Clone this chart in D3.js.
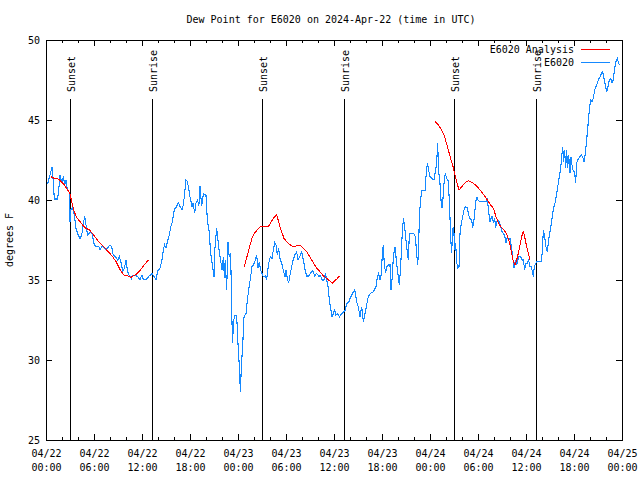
<!DOCTYPE html>
<html>
<head>
<meta charset="utf-8">
<script src="https://cdn.jsdelivr.net/npm/d3@7"></script>
<style>
  html, body { margin: 0; padding: 0; background: #fff; }
  svg { display: block; }
  text { font-family: "DejaVu Sans Mono", "Liberation Mono", monospace; font-size: 10px; fill: #000; }
</style>
</head>
<body>
<svg id="chart" width="640" height="480"></svg>
<script>
// ---- Data (hours since 2024-04-22 00:00 UTC) ----
const titleText = "Dew Point for E6020 on 2024-Apr-22 (time in UTC)";
const yLabel = "degrees F";
const seriesNames = ["E6020 Analysis", "E6020"];

const yTicks = [25, 30, 35, 40, 45, 50];
const xTickHours = [0, 6, 12, 18, 24, 30, 36, 42, 48, 54, 60, 66, 72];
const xTickDays = ["04/22","04/22","04/22","04/22","04/23","04/23","04/23","04/23","04/24","04/24","04/24","04/24","04/25"];
const xTickTimes = ["00:00","06:00","12:00","18:00","00:00","06:00","12:00","18:00","00:00","06:00","12:00","18:00","00:00"];

const eventLabels = ["Sunset", "Sunrise", "Sunset", "Sunrise", "Sunset", "Sunrise"];
const eventHours = [3.0, 13.3, 27.05, 37.3, 51.05, 61.2];

const obsHours = [
  0.2,0.5,0.75,0.9,1.04,1.46,1.58,1.75,2.0,2.17,2.33,2.5,2.67,2.9,3.0,3.1,3.33,3.54,3.75,3.96,
  4.25,4.46,4.67,4.83,5.0,5.2,5.5,5.75,6.04,6.25,6.6,6.75,7.0,7.3,7.5,7.7,8.0,8.2,8.4,8.67,
  8.96,9.17,9.4,9.6,9.8,10.0,10.2,10.4,10.67,10.83,11.17,11.46,11.75,12.0,12.17,12.5,12.9,13.25,13.54,13.75,
  14.0,14.25,14.5,14.67,14.83,15.0,15.17,15.4,15.6,15.8,16.04,16.33,16.54,16.75,17.0,17.17,17.33,17.5,17.67,17.83,
  18.0,18.25,18.4,18.58,18.75,18.96,19.1,19.25,19.46,19.67,20.0,20.17,20.4,20.58,20.83,21.0,21.1,21.33,21.5,21.67,
  21.83,22.0,22.17,22.3,22.4,22.58,22.75,22.9,23.08,23.25,23.33,23.42,23.58,23.83,24.0,24.17,24.3,24.42,24.58,24.75,
  25.0,25.17,25.4,25.58,25.75,25.92,26.1,26.33,26.5,26.67,26.83,27.0,27.17,27.4,27.58,27.75,27.92,28.08,28.25,28.42,
  28.58,28.75,28.92,29.08,29.25,29.46,29.67,29.875,30.0,30.17,30.33,30.5,30.7,30.9,31.1,31.33,31.5,31.75,31.96,32.17,
  32.4,32.58,32.83,33.08,33.33,33.58,33.83,34.08,34.33,34.54,34.75,34.92,35.08,35.25,35.42,35.58,35.75,35.92,36.08,36.25,
  36.42,36.67,36.92,37.17,37.42,37.58,37.83,38.0,38.33,38.6,38.83,39.04,39.25,39.46,39.67,39.875,40.08,40.29,40.58,40.92,
  41.25,41.42,41.58,41.75,41.92,42.04,42.17,42.3,42.46,42.625,42.79,43.0,43.125,43.29,43.42,43.625,43.83,44.04,44.17,44.33,
  44.5,44.67,44.83,45.0,45.17,45.29,45.42,45.7,46.0,46.17,46.33,46.46,46.58,46.67,46.83,47.0,47.375,47.5,47.67,47.83,
  48.0,48.25,48.5,48.67,48.83,48.96,49.08,49.25,49.375,49.5,49.625,49.75,49.92,50.08,50.25,50.42,50.58,50.71,50.83,50.96,
  51.08,51.21,51.33,51.46,51.625,51.75,51.92,52.08,52.25,52.42,52.67,52.83,53.0,53.21,53.33,53.5,53.625,53.75,53.875,54.0,
  54.17,54.46,54.75,55.0,55.17,55.33,55.5,55.625,55.75,55.92,56.08,56.21,56.33,56.42,56.67,56.83,57.0,57.17,57.33,57.5,
  57.67,57.83,58.0,58.17,58.33,58.5,58.67,58.83,59.08,59.33,59.5,59.67,59.83,60.0,60.17,60.33,60.5,60.67,60.79,60.92,
  61.04,61.17,61.33,61.75,61.92,62.04,62.17,62.33,62.5,62.67,62.83,63.0,63.17,63.33,63.5,63.67,63.83,64.0,64.17,64.33,
  64.5,64.58,64.71,64.83,64.96,65.08,65.21,65.33,65.5,65.625,65.75,65.92,66.08,66.21,66.33,66.5,66.67,66.92,67.08,67.25,
  67.42,67.58,67.75,67.92,68.08,68.25,68.42,68.58,68.75,68.92,69.08,69.25,69.42,69.58,69.75,69.92,70.08,70.25,70.42,70.58,
  70.75,70.92,71.08,71.25,71.42,71.58,71.75
];
const obsValues = [
  41.0,41.56,42.04,41.25,40.06,40.06,40.6,41.56,41.04,41.5,40.94,41.25,40.6,40.5,38.65,39.4,39.5,39.06,38.23,37.9,
  37.6,37.8,38.5,39.0,38.44,37.8,38.0,37.9,37.19,37.1,37.1,36.9,37.1,37.0,36.9,37.0,37.2,37.1,36.56,36.46,
  36.25,36.46,36.04,35.52,35.73,36.25,35.52,35.3,35.1,35.3,35.3,35.2,35.04,35.3,35.04,35.04,35.25,35.4,35.2,35.04,
  35.6,35.73,36.25,36.9,37.19,37.0,37.4,37.8,38.33,38.65,39.4,39.6,39.83,39.6,39.4,39.7,40.4,41.25,41.15,40.73,
  40.2,39.6,39.8,39.17,39.8,40.0,39.6,40.9,39.6,40.4,40.3,38.75,38.02,36.67,35.83,35.2,36.9,38.23,37.5,36.67,
  36.25,35.6,36.46,35.1,36.25,34.38,37.4,36.46,36.67,32.3,31.04,32.3,32.8,32.8,31.04,29.6,28.0,29.6,30.83,32.7,
  32.9,33.75,34.6,35.2,35.83,35.94,36.15,36.56,35.73,36.15,35.6,35.42,35.2,35.25,35.0,35.73,36.25,36.46,36.35,36.88,
  37.33,37.19,36.56,36.98,36.35,36.04,35.6,35.2,35.6,35.1,34.8,35.3,35.83,36.25,36.56,36.77,36.25,36.5,36.77,36.25,
  35.6,35.25,35.25,35.42,35.6,35.25,35.42,35.25,35.25,35.0,35.0,35.42,35.0,34.6,33.75,33.23,32.7,32.9,33.13,32.8,
  32.9,32.7,32.88,33.0,33.13,33.54,33.6,33.85,34.17,34.38,33.65,33.33,32.7,33.33,32.4,32.9,33.44,33.96,34.17,34.27,
  34.58,35.2,35.4,35.0,35.4,36.67,37.19,35.83,35.52,35.83,35.94,35.94,34.38,35.2,36.46,37.08,36.04,35.2,34.69,35.83,
  37.6,38.85,38.33,37.5,36.67,36.25,37.88,37.9,37.88,37.7,36.67,35.94,37.08,38.96,40.1,40.58,40.58,41.46,42.29,41.88,
  41.46,41.35,41.25,41.77,42.29,43.54,41.77,41.04,40.0,39.48,40.1,41.04,41.67,41.35,41.25,40.0,37.7,36.67,38.13,38.33,
  36.88,37.3,36.15,35.73,35.83,37.9,38.54,38.96,39.38,39.58,39.54,39.06,38.85,38.75,38.23,38.75,39.38,40.0,40.2,40.0,
  39.9,39.9,39.9,39.9,40.1,39.27,38.65,38.85,38.96,38.65,38.85,38.23,38.65,38.75,38.65,38.33,38.02,37.9,37.8,37.3,
  37.7,37.5,37.6,37.08,36.46,35.73,36.25,35.94,36.46,36.46,36.25,36.25,35.63,36.04,36.04,36.25,35.83,35.83,35.52,35.2,
  35.83,36.0,36.15,36.15,36.15,36.77,38.13,37.7,37.08,36.77,37.5,38.02,38.54,39.17,39.58,39.9,40.4,40.94,41.46,41.98,
  42.9,43.33,42.4,43.13,41.98,43.13,41.98,42.8,41.67,42.7,42.19,41.77,41.77,41.04,42.29,42.54,42.67,42.8,42.7,42.4,
  42.9,43.75,44.69,45.63,46.25,46.15,46.35,46.88,47.08,47.3,47.54,47.7,47.9,48.02,47.6,47.19,46.77,47.08,47.5,47.6,
  47.3,47.54,48.23,48.65,48.85,48.54,48.44
];

// Analysis (NaN marks gaps between runs)
const anaHours = [
  0.6,1.04,1.58,1.875,2.3,2.7,3.0,3.25,3.54,3.83,4.17,4.58,5.0,5.42,5.83,6.17,6.58,7.08,7.5,7.92,
  8.33,8.75,9.17,9.5,9.8,10.2,10.625,10.9,11.33,11.75,12.17,12.5,12.8,
  NaN,
  24.79,25.0,25.3,25.5,25.75,26.04,26.42,26.75,27.25,27.79,28.33,28.83,29.25,29.75,30.29,30.83,31.33,31.75,32.17,32.58,
  33.0,33.42,33.83,34.25,34.67,35.08,35.42,35.79,36.125,36.42,36.67,
  NaN,
  48.67,49.04,49.46,49.75,50.0,50.29,50.58,50.83,51.08,51.33,51.625,51.96,52.375,52.79,53.33,53.83,54.25,54.75,55.17,55.58,
  55.92,56.25,56.54,56.83,57.17,57.5,57.79,58.0,58.21,58.42,58.625,58.83,59.04,59.25,59.46,59.67,59.875,60.08,60.29,60.5
];
const anaValues = [
  41.46,41.35,41.3,41.15,40.94,40.63,40.4,39.8,39.27,38.9,38.7,38.44,38.23,38.13,37.9,37.67,37.4,37.13,36.92,36.7,
  36.46,36.15,35.73,35.46,35.3,35.25,35.17,35.25,35.38,35.58,35.88,36.08,36.25,
  NaN,
  35.79,36.25,36.77,37.19,37.6,37.92,38.13,38.33,38.33,38.33,38.79,39.1,38.33,37.6,37.29,37.08,37.13,37.19,36.98,36.77,
  36.42,36.08,35.73,35.52,35.25,35.1,34.96,34.79,34.96,35.1,35.25,
  NaN,
  44.9,44.69,44.38,44.06,43.65,43.13,42.6,42.19,41.67,41.15,40.63,40.83,41.08,41.2,41.08,40.88,40.63,40.3,40.0,39.69,
  39.48,38.96,38.6,38.33,38.17,37.96,37.6,37.19,36.67,36.15,35.94,36.25,36.67,37.19,37.71,38.08,37.6,37.08,36.67,36.25
];

// ---- Drawing ----
const svg = d3.select("#chart");
const L = 46, R = 622, T = 40, B = 440;
const t0 = Date.UTC(2024, 3, 22, 0, 0);
const toDate = h => new Date(t0 + h * 3600e3);

const x = d3.scaleUtc().domain([toDate(0), toDate(72)]).range([L, R]);
const y = d3.scaleLinear().domain([25, 50]).range([B, T]);

svg.append("rect").attr("width", 640).attr("height", 480).attr("fill", "#fff");

// Title
svg.append("text").attr("x", 331).attr("y", 20).attr("text-anchor", "middle")
  .attr("dominant-baseline", "middle").text(titleText);

// y label
svg.append("text").attr("transform", "translate(10,240) rotate(-90)")
  .attr("text-anchor", "middle").attr("dominant-baseline", "middle").text(yLabel);

const minorHours = d3.range(0, 73, 2).filter(h => h % 6 !== 0);

// bottom axis (major)
const gx = svg.append("g").attr("transform", `translate(0,${B})`)
  .call(d3.axisBottom(x).tickValues(xTickHours.map(toDate)).tickSize(-6).tickPadding(8).tickFormat(""));
gx.selectAll(".tick").each(function(d, i) {
  const t = d3.select(this).append("text").attr("fill", "#000").attr("text-anchor", "middle");
  t.append("tspan").attr("x", 0).attr("y", 17).text(xTickDays[i]);
  t.append("tspan").attr("x", 0).attr("y", 31).text(xTickTimes[i]);
});
// bottom minor
svg.append("g").attr("transform", `translate(0,${B})`)
  .call(d3.axisBottom(x).tickValues(minorHours.map(toDate)).tickSize(-3).tickFormat(""))
  .select(".domain").remove();
// top axis
svg.append("g").attr("transform", `translate(0,${T})`)
  .call(d3.axisTop(x).tickValues(xTickHours.map(toDate)).tickSize(-6).tickFormat(""));
svg.append("g").attr("transform", `translate(0,${T})`)
  .call(d3.axisTop(x).tickValues(minorHours.map(toDate)).tickSize(-3).tickFormat(""))
  .select(".domain").remove();
// left axis
const gy = svg.append("g").attr("transform", `translate(${L},0)`)
  .call(d3.axisLeft(y).tickValues(yTicks).tickSize(-6).tickPadding(6).tickFormat(d3.format("d")));
gy.selectAll("text").attr("x", -6);
// right axis
svg.append("g").attr("transform", `translate(${R},0)`)
  .call(d3.axisRight(y).tickValues(yTicks).tickSize(-6).tickFormat(""));

svg.selectAll(".domain").attr("stroke", "#000").attr("stroke-width", 1).attr("shape-rendering", "crispEdges");
svg.selectAll(".tick line").attr("stroke", "#000").attr("shape-rendering", "crispEdges");
svg.selectAll(".tick text").attr("font-family", "DejaVu Sans Mono").attr("font-size", 10);

// sun events
eventHours.forEach((h, i) => {
  const xp = Math.round(x(toDate(h))) + 0.5;
  svg.append("line").attr("x1", xp).attr("x2", xp).attr("y1", 99).attr("y2", B)
    .attr("stroke", "#000").attr("stroke-width", 1).attr("shape-rendering", "crispEdges");
  svg.append("text").attr("transform", `translate(${xp + 1},92) rotate(-90)`)
    .attr("text-anchor", "start").attr("dominant-baseline", "middle").text(eventLabels[i]);
});

// series
const obs = obsHours.map((h, i) => ({ t: toDate(h), v: obsValues[i] }));
const ana = anaHours.map((h, i) => ({ t: isNaN(h) ? null : toDate(h), v: anaValues[i] }));

const lineGen = d3.line().defined(d => d.t !== null && !isNaN(d.v))
  .x(d => x(d.t)).y(d => y(d.v));

svg.append("path").datum(obs).attr("d", lineGen)
  .attr("fill", "none").attr("stroke", "#1589FF").attr("stroke-width", 1.1)
  .attr("shape-rendering", "crispEdges");
svg.append("path").datum(ana).attr("d", lineGen)
  .attr("fill", "none").attr("stroke", "#FF0000").attr("stroke-width", 1)
  .attr("shape-rendering", "crispEdges");

// legend
const legColors = ["#FF0000", "#1589FF"];
seriesNames.forEach((name, i) => {
  const ly = 50 + i * 13;
  svg.append("text").attr("x", 574).attr("y", ly).attr("text-anchor", "end")
    .attr("dominant-baseline", "middle").text(name);
  svg.append("line").attr("x1", 581).attr("x2", 610).attr("y1", ly - 0.5).attr("y2", ly - 0.5)
    .attr("stroke", legColors[i]).attr("stroke-width", 1);
});
</script>
</body>
</html>
